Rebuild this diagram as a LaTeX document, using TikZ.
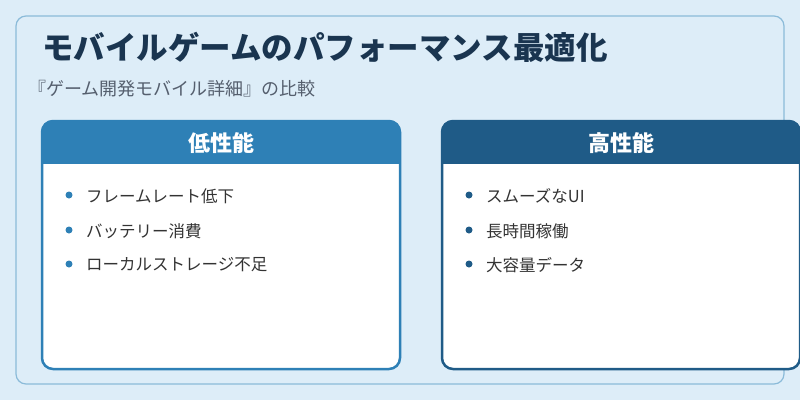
\documentclass[tikz,border=0pt]{standalone}
\usepackage{fontspec}
\newfontfamily\cjk{Noto Sans CJK JP}
\definecolor{cA}{RGB}{46,128,182}
\definecolor{cB}{RGB}{31,91,135}
\definecolor{bg}{RGB}{221,237,248}
\definecolor{frame}{RGB}{139,187,217}
\definecolor{ttl}{RGB}{26,53,80}
\definecolor{subc}{RGB}{85,95,110}
\begin{document}
\begin{tikzpicture}[x=1pt,y=-1pt,
  every node/.style={font=\cjk},
  card/.style={draw=#1,line width=2.5pt,fill=white,rounded corners=11pt},
  item/.style={anchor=west,inner sep=0pt,font=\cjk\fontsize{16.5}{18}\selectfont,text=black!80},
  dot/.style={circle,fill=#1,inner sep=0pt,minimum size=7pt}]
\fill[bg] (0,0) rectangle (800,400);
\useasboundingbox (0,0) rectangle (800,400);
\draw[frame,line width=1.2pt,rounded corners=10pt] (16,16) rectangle (784,384);
\node[anchor=west,inner sep=0pt,font=\cjk\bfseries\fontsize{31.5}{34}\selectfont,text=ttl] (title) at (42,47) {モバイルゲームのパフォーマンス最適化};
\node[anchor=west,inner sep=0pt,font=\cjk\fontsize{18}{20}\selectfont,text=subc] (sub) at (28,89) {『ゲーム開発モバイル詳細』の比較};
% left card
\draw[card=cA] (42,121) rectangle (400,369);
\begin{scope}
\clip[rounded corners=11pt] (42,121) rectangle (400,369);
\fill[cA] (42,121) rectangle (400,164);
\end{scope}
\node[text=white,font=\cjk\bfseries\fontsize{22}{24}\selectfont] (h1) at (221,143) {低性能};
\node[dot=cA] (d1) at (69,195) {}; \node[item] (t1) at (86,196) {フレームレート低下};
\node[dot=cA] (d2) at (69,230) {}; \node[item] (t2) at (86,231) {バッテリー消費};
\node[dot=cA] (d3) at (69,264) {}; \node[item] (t3) at (86,265) {ローカルストレージ不足};
% right card
\draw[card=cB] (442,121) rectangle (800,369);
\begin{scope}
\clip[rounded corners=11pt] (442,121) rectangle (800,369);
\fill[cB] (442,121) rectangle (800,164);
\end{scope}
\node[text=white,font=\cjk\bfseries\fontsize{22}{24}\selectfont] (h2) at (621,143) {高性能};
\node[dot=cB] (e1) at (469,195) {}; \node[item] (u1) at (486,196) {スムーズなUI};
\node[dot=cB] (e2) at (469,230) {}; \node[item] (u2) at (486,231) {長時間稼働};
\node[dot=cB] (e3) at (469,264) {}; \node[item] (u3) at (486,265) {大容量データ};
\end{tikzpicture}
\end{document}
